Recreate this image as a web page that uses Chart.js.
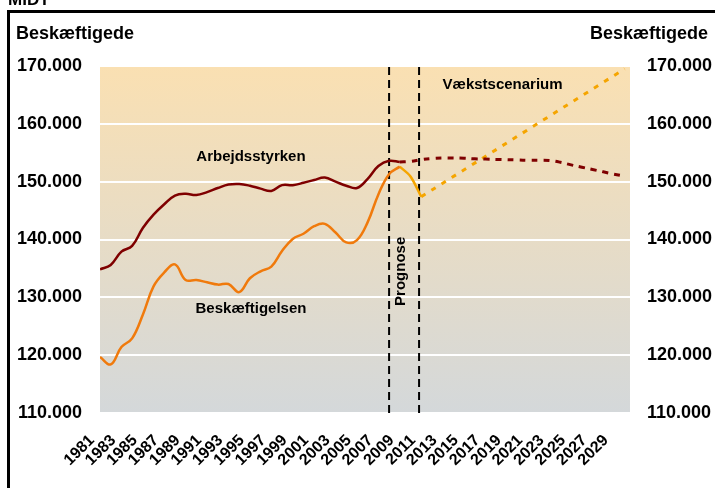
<!DOCTYPE html>
<html>
<head>
<meta charset="utf-8">
<script src="https://cdn.jsdelivr.net/npm/chart.js@4.4.1/dist/chart.umd.min.js"></script>
<style>
  html, body { margin: 0; padding: 0; background: #fff; }
  #chart { display: block; }
</style>
</head>
<body>
<canvas id="chart" width="715" height="488"></canvas>
<script>
// historic years (solid lines)
const histYears = [1981, 1982, 1983, 1984, 1985, 1986, 1987, 1988, 1989, 1990,
                   1991, 1992, 1993, 1994, 1995, 1996, 1997, 1998, 1999, 2000,
                   2001, 2002, 2003, 2004, 2005, 2006, 2007, 2008, 2009];
const arbejdsstyrkeHist = [134850, 135600, 137900, 138900, 142000, 144300, 146100, 147600, 147900, 147700,
                           148200, 148900, 149500, 149600, 149300, 148800, 148400, 149400, 149400, 149800,
                           150300, 150700, 150000, 149300, 148900, 150500, 152700, 153600, 153400];
const beskaeftigelseHist = [119700, 118400, 121400, 122900, 127000, 131900, 134300, 135700, 133000, 133000,
                            132600, 132200, 132300, 130900, 133300, 134500, 135300, 138000, 140100, 141000,
                            142300, 142700, 141200, 139500, 139900, 143000, 147800, 151300, 152600];

// forecast years (dashed)
const progYears = [2009, 2010, 2011, 2012, 2013, 2014, 2015, 2016, 2017, 2018, 2019,
                   2020, 2021, 2022, 2023, 2024, 2025, 2026, 2027, 2028, 2029, 2030];
const arbejdsstyrkeProg = [153400, 153500, 153800, 154000, 154100, 154100, 154050, 153950, 153900, 153850, 153800,
                           153750, 153700, 153700, 153650, 153350, 152900, 152500, 152100, 151700, 151300, 150950];

const beskProgYears = [2009, 2010, 2011];
const beskaeftigelseProg = [152600, 150900, 147400];

const vaekstYears = [2011, 2030];
const beskaeftigelseVaekst = [147400, 169500];

// the two "Prognose" markers
const prognoseYears = [2008, 2010.8];

const tickYears = [1981, 1983, 1985, 1987, 1989, 1991, 1993, 1995, 1997, 1999, 2001, 2003, 2005,
                   2007, 2009, 2011, 2013, 2015, 2017, 2019, 2021, 2023, 2025, 2027, 2029];
const yMin = 110000;
const yMax = 170000;

// text labels placed in data coordinates
const notes = [
    { text: 'Arbejdsstyrken', year: 1995.1, value: 154300, rotate: false },
    { text: 'Beskæftigelsen', year: 1995.1, value: 128000, rotate: false },
    { text: 'Vækstscenarium', year: 2018.6, value: 166800, rotate: false },
    { text: 'Prognose', year: 2009.1, value: 134500, rotate: true }
];

const FONT = '"Liberation Sans", Arial, sans-serif';

function fmt(v) {
    return String(v).replace(/\B(?=(\d{3})+(?!\d))/g, '.');
}

function toPoints(xs, ys) {
    return xs.map((x, i) => ({ x: x, y: ys[i] }));
}

const lineBase = { pointRadius: 0, fill: false, borderCapStyle: 'butt' };

const datasets = [
    Object.assign({}, lineBase, {
        data: toPoints(histYears, arbejdsstyrkeHist),
        borderColor: '#7f0000', borderWidth: 2.5, tension: 0.4
    }),
    Object.assign({}, lineBase, {
        data: toPoints(progYears, arbejdsstyrkeProg),
        borderColor: '#7f0000', borderWidth: 3, borderDash: [6, 6], tension: 0.4
    }),
    Object.assign({}, lineBase, {
        data: toPoints(histYears, beskaeftigelseHist),
        borderColor: '#f07a0c', borderWidth: 2.5, tension: 0.4
    }),
    Object.assign({}, lineBase, {
        data: toPoints(beskProgYears, beskaeftigelseProg),
        borderColor: '#f5a500', borderWidth: 2.5, tension: 0.3
    }),
    Object.assign({}, lineBase, {
        data: toPoints(vaekstYears, beskaeftigelseVaekst),
        borderColor: '#f5a500', borderWidth: 3, borderDash: [5, 7], tension: 0
    })
];

prognoseYears.forEach(yr => {
    datasets.push(Object.assign({}, lineBase, {
        data: [{ x: yr, y: yMin }, { x: yr, y: yMax + 500 }],
        borderColor: '#000', borderWidth: 2, borderDash: [8, 5], tension: 0, clip: false
    }));
});

// background gradient, frame and texts
const decorPlugin = {
    id: 'decor',
    beforeDraw(chart) {
        const { ctx, chartArea: a } = chart;
        const g = ctx.createLinearGradient(0, a.top, 0, a.bottom);
        g.addColorStop(0, 'rgb(250,224,178)');
        g.addColorStop(1, 'rgb(212,216,218)');
        ctx.save();
        ctx.fillStyle = g;
        ctx.fillRect(a.left, a.top, a.right - a.left, a.bottom - a.top);
        ctx.restore();
    },
    afterDraw(chart) {
        const { ctx } = chart;
        const xs = chart.scales.x, ys = chart.scales.y;
        ctx.save();
        // frame
        ctx.strokeStyle = '#000';
        ctx.lineWidth = 3;
        ctx.beginPath();
        ctx.moveTo(715, 11.5);
        ctx.lineTo(8.5, 11.5);
        ctx.lineTo(8.5, 488);
        ctx.stroke();

        ctx.fillStyle = '#000';
        ctx.font = 'bold 17px ' + FONT;
        ctx.textBaseline = 'alphabetic';
        ctx.textAlign = 'left';
        ctx.fillText('MIDT', 8, 5);

        ctx.font = 'bold 18px ' + FONT;
        ctx.textBaseline = 'middle';
        ctx.textAlign = 'left';
        ctx.fillText('Beskæftigede', 16, 34);
        ctx.textAlign = 'right';
        ctx.fillText('Beskæftigede', 708, 34);

        ctx.font = 'bold 15px ' + FONT;
        ctx.textAlign = 'center';
        notes.forEach(n => {
            const px = xs.getPixelForValue(n.year);
            const py = ys.getPixelForValue(n.value);
            ctx.save();
            ctx.translate(px, py);
            if (n.rotate) ctx.rotate(-Math.PI / 2);
            ctx.fillText(n.text, 0, 0);
            ctx.restore();
        });
        ctx.restore();
    }
};

const yTickFont = { family: FONT, size: 18, weight: 'bold' };

new Chart(document.getElementById('chart'), {
    type: 'line',
    data: { datasets: datasets },
    plugins: [decorPlugin],
    options: {
        responsive: false,
        animation: false,
        layout: { padding: { top: 66, left: 0, right: 0, bottom: 0 } },
        plugins: { legend: { display: false }, tooltip: { enabled: false } },
        scales: {
            x: {
                type: 'linear',
                min: 1981,
                max: 2030.5,
                grid: { display: false },
                border: { display: false },
                afterBuildTicks: axis => { axis.ticks = tickYears.map(v => ({ value: v })); },
                afterFit: axis => { axis.height = 75; },
                ticks: {
                    autoSkip: false,
                    maxRotation: 45,
                    minRotation: 45,
                    padding: 10,
                    labelOffset: -8,
                    color: '#000',
                    font: { family: FONT, size: 16, weight: 'bold' },
                    callback: v => String(v)
                }
            },
            y: {
                position: 'left',
                min: yMin,
                max: yMax,
                afterFit: axis => { axis.width = 100; },
                grid: { color: '#ffffff', lineWidth: 2, drawTicks: false },
                border: { display: false },
                ticks: { stepSize: 10000, padding: 18, color: '#000', font: yTickFont, callback: v => fmt(v) }
            },
            y2: {
                position: 'right',
                min: yMin,
                max: yMax,
                afterFit: axis => { axis.width = 85; },
                grid: { display: false, drawTicks: false },
                border: { display: false },
                ticks: { stepSize: 10000, padding: 17, color: '#000', font: yTickFont, callback: v => fmt(v) }
            }
        }
    }
});
</script>
</body>
</html>
